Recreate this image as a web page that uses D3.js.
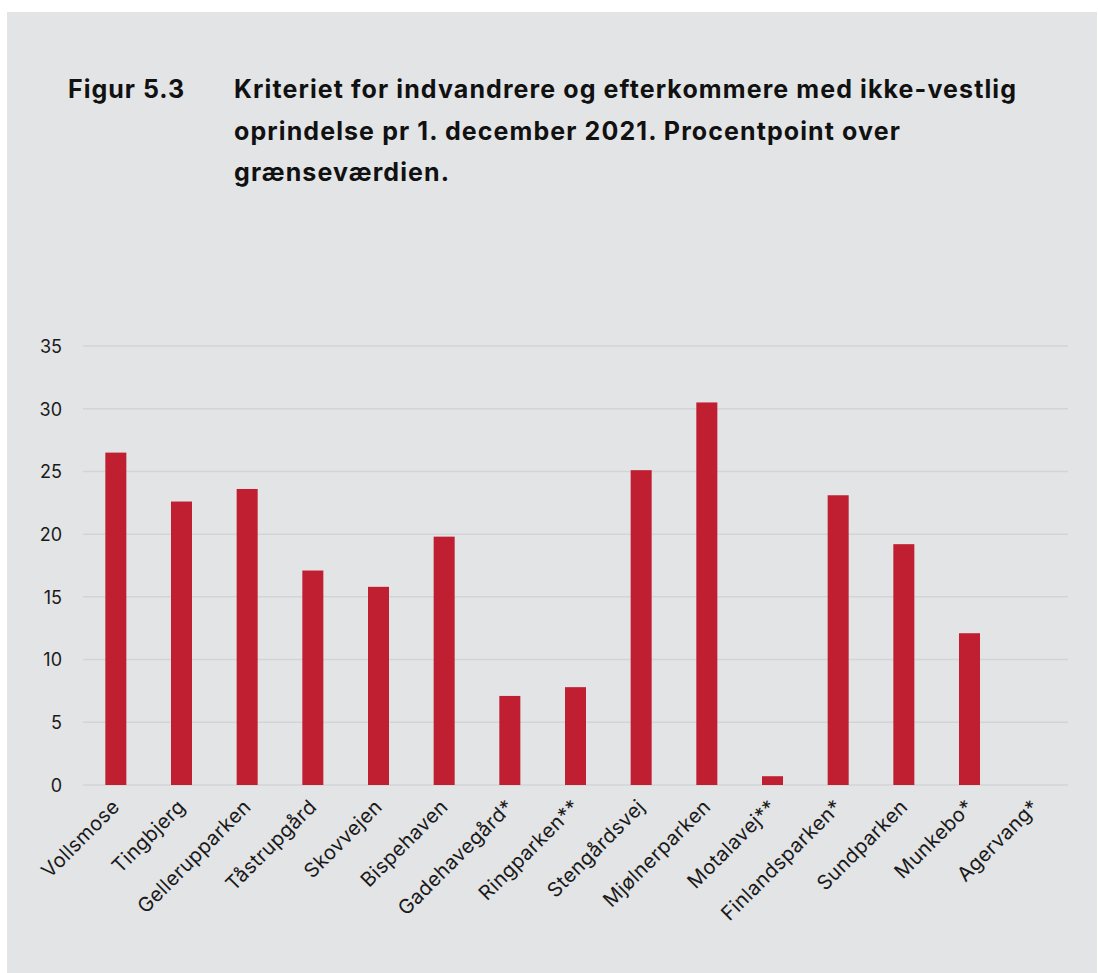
<!DOCTYPE html>
<html>
<head>
<meta charset="utf-8">
<script src="https://cdn.jsdelivr.net/npm/d3@7"></script>
<style>
  body { margin: 0; background: #fff; }
  svg { display: block; font-family: Inter, "Noto Sans", sans-serif; }
</style>
</head>
<body>
<svg id="chart" width="1098" height="973"></svg>
<script>
const categories = ['Vollsmose','Tingbjerg','Gellerupparken','Tåstrupgård','Skovvejen','Bispehaven',
  'Gadehavegård*','Ringparken**','Stengårdsvej','Mjølnerparken','Motalavej**','Finlandsparken*',
  'Sundparken','Munkebo*','Agervang*'];
const values = [26.5, 22.6, 23.6, 17.1, 15.8, 19.8, 7.1, 7.8, 25.1, 30.5, 0.7, 23.1, 19.2, 12.1, 0];
const yTicks = [0, 5, 10, 15, 20, 25, 30, 35];
const titleLines = ['Kriteriet for indvandrere og efterkommere med ikke-vestlig',
  'oprindelse pr 1. december 2021. Procentpoint over',
  'grænseværdien.'];

var svg = d3.select('#chart');

svg.append('rect').attr('x', 7).attr('y', 12).attr('width', 1090).attr('height', 961)
  .attr('fill', '#e3e4e6');

svg.append('text').attr('x', 68).attr('y', 98)
  .attr('font-size', '25px').attr('font-weight', 700).attr('fill', '#111')
  .attr('letter-spacing', '1px')
  .text('Figur 5.3');

svg.selectAll('.title').data(titleLines).enter().append('text')
  .attr('class', 'title')
  .attr('x', 234).attr('y', (d, i) => 98 + i * 41.5)
  .attr('font-size', '25px').attr('font-weight', 700).attr('fill', '#111')
  .attr('letter-spacing', '1.1px')
  .text(d => d);

var x = d3.scaleBand().domain(categories).range([83, 1068])
  .paddingInner(0.68).paddingOuter(0.34);
var y = d3.scaleLinear().domain([0, 35]).range([785, 346]);

// grid
svg.append('g').selectAll('line').data(yTicks).enter().append('line')
  .attr('x1', 83).attr('x2', 1068)
  .attr('y1', d => y(d)).attr('y2', d => y(d))
  .attr('stroke', '#d3d4d6').attr('stroke-width', 1.5);

var yAxis = svg.append('g').attr('transform', 'translate(62,0)')
  .call(d3.axisLeft(y).tickValues(yTicks).tickSize(0).tickPadding(0));
yAxis.select('.domain').remove();
yAxis.selectAll('text').attr('font-size', '18px').attr('fill', '#1a1a1a')
  .attr('font-family', 'Inter, sans-serif').attr('dy', '0.35em');

svg.append('g').selectAll('rect').data(values).enter().append('rect')
  .attr('x', (d, i) => x(categories[i]))
  .attr('y', d => y(d))
  .attr('width', x.bandwidth())
  .attr('height', d => y(0) - y(d))
  .attr('fill', '#c01e31');

var xAxis = svg.append('g').attr('transform', 'translate(0,785)')
  .call(d3.axisBottom(x).tickSize(0));
xAxis.select('.domain').remove();
xAxis.selectAll('text')
  .attr('font-size', '20px').attr('fill', '#1a1a1a')
  .attr('font-family', 'Inter, sans-serif')
  .attr('letter-spacing', '0.4px')
  .attr('text-anchor', 'end')
  .attr('dy', null).attr('y', 0)
  .attr('transform', 'translate(5,23) rotate(-45)');
</script>
</body>
</html>
